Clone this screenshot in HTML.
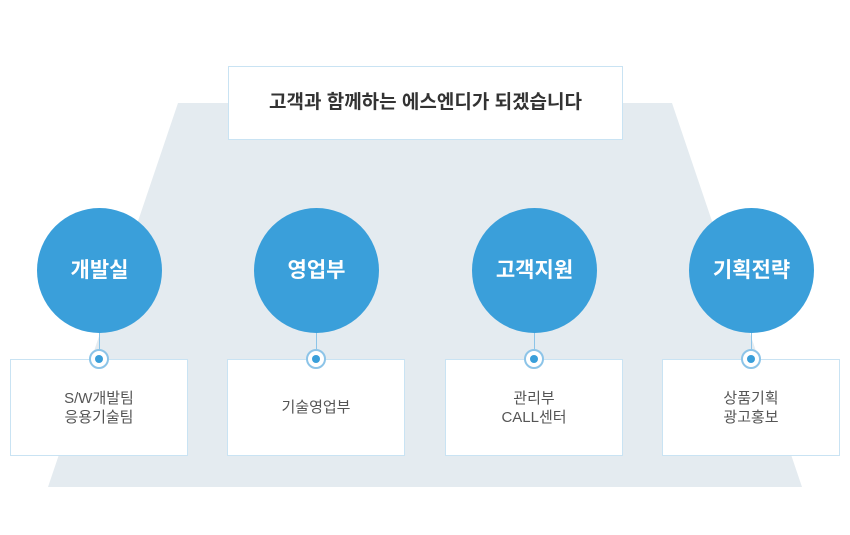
<!DOCTYPE html>
<html><head><meta charset="utf-8"><style>
body{margin:0;background:#fff;width:850px;height:535px;overflow:hidden;position:relative;font-family:"Liberation Sans","Noto Sans CJK KR",sans-serif}
.a{position:absolute}
.top{left:228px;top:66px;border:1px solid #c9e3f3;background:#fff;box-sizing:border-box;width:395px;height:74px;text-align:center;line-height:72px;font-size:19px;font-weight:bold;color:#333}
.c{width:125px;height:125px;border-radius:50%;background:#3a9fda;color:#fff;font-size:21px;font-weight:bold;text-align:center;line-height:125px;top:208px}
.b{top:359px;width:178px;height:97px;border:1px solid #c9e3f3;background:#fff;box-sizing:border-box;display:flex;align-items:center;justify-content:center;text-align:center;font-size:15px;color:#555;line-height:19px}
.l{width:1px;height:24px;top:333px;background:#8cc4e8}
.d{width:16px;height:16px;border:2px solid #8cc4e8;border-radius:50%;background:#fff;top:349px}
.d:after{content:"";position:absolute;left:4px;top:4px;width:8px;height:8px;border-radius:50%;background:#3a9fda}
</style></head><body>
<svg class="a" style="left:0;top:0" width="850" height="535"><polygon points="178,103 672,103 802,487 48,487" fill="#e4ebf0"/></svg>
<div class="a top">고객과 함께하는 에스엔디가 되겠습니다</div>
<div class="a c" style="left:37px">개발실</div>
<div class="a c" style="left:254px">영업부</div>
<div class="a c" style="left:472px">고객지원</div>
<div class="a c" style="left:689px">기획전략</div>
<div class="a b" style="left:10px">S/W개발팀<br>응용기술팀</div>
<div class="a b" style="left:227px">기술영업부</div>
<div class="a b" style="left:445px">관리부<br>CALL센터</div>
<div class="a b" style="left:662px">상품기획<br>광고홍보</div>
<div class="a l" style="left:99px"></div><div class="a l" style="left:316px"></div><div class="a l" style="left:534px"></div><div class="a l" style="left:751px"></div>
<div class="a d" style="left:89px"></div><div class="a d" style="left:306px"></div><div class="a d" style="left:524px"></div><div class="a d" style="left:741px"></div>
</body></html>
